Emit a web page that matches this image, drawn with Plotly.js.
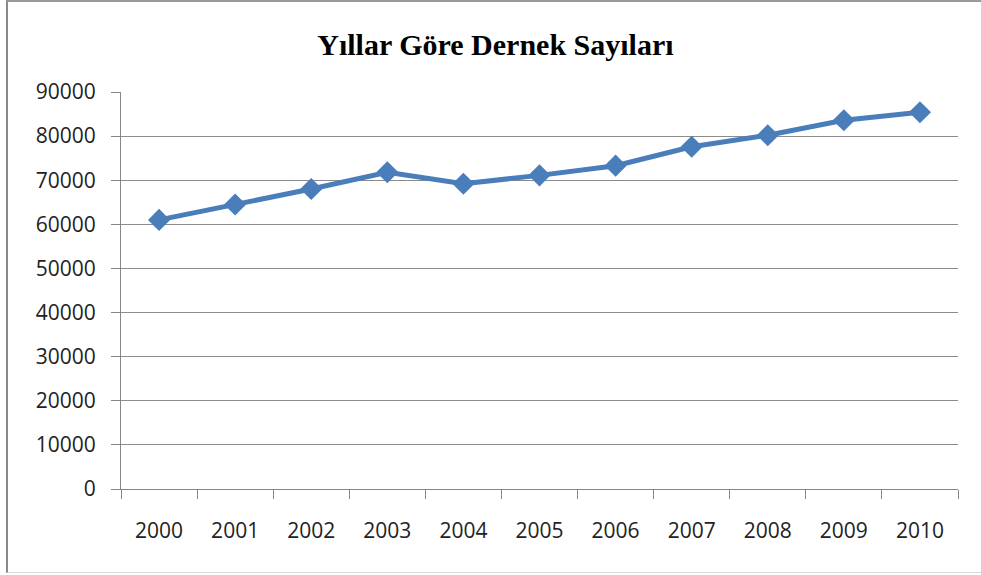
<!DOCTYPE html>
<html>
<head>
<meta charset="utf-8">
<script src="https://cdn.plot.ly/plotly-3.0.1.min.js"></script>
<style>
  html, body { margin: 0; padding: 0; background: #fff; }
  #wrap { position: relative; width: 981px; height: 575px; }
  #chart { width: 981px; height: 575px; }
  #frame { position: absolute; left: 6px; top: 0px; width: 975px; height: 573px;
           border-left: 2px solid #8a8a8a; border-top: 2px solid #9a9a9a;
           border-bottom: 1px solid #d8d8d8; box-sizing: border-box; pointer-events: none; }
</style>
</head>
<body>
<div id="wrap">
  <div id="chart"></div>
  <div id="frame"></div>
</div>
<script>
const years = ["2000","2001","2002","2003","2004","2005","2006","2007","2008","2009","2010"];
const counts = [61000, 64500, 68000, 71800, 69200, 71100, 73300, 77600, 80200, 83600, 85400];
const yTicks = [0,10000,20000,30000,40000,50000,60000,70000,80000,90000];
const titleText = "Yıllar Göre Dernek Sayıları";

const trace = {
  x: years, y: counts, type: "scatter", mode: "lines+markers",
  line: { color: "#4a7ebb", width: 5 },
  marker: { symbol: "diamond", size: 17, color: "#4a7ebb" },
  hoverinfo: "skip"
};

const layout = {
  width: 981, height: 575,
  margin: { l: 121, r: 23, t: 92, b: 86 },
  paper_bgcolor: "#fff", plot_bgcolor: "#fff",
  showlegend: false,
  title: { text: "<b>" + titleText + "</b>", x: 0.505, xref: "container", xanchor: "center",
           y: 0.922, yref: "container", yanchor: "middle",
           font: { family: "Liberation Serif, serif", size: 30, color: "#000" } },
  xaxis: {
    type: "category", tickson: "boundaries",
    showgrid: false, zeroline: false,
    showline: true, linecolor: "#868686", linewidth: 1,
    ticks: "outside", ticklen: 9, tickcolor: "#868686", tickwidth: 1,
    ticklabelstandoff: 23,
    tickfont: { family: "Open Sans, sans-serif", size: 21, color: "#222" },
    range: [-0.5, 10.5], fixedrange: true
  },
  yaxis: {
    range: [0, 90000], tickvals: yTicks, ticktext: yTicks.map(String),
    showgrid: true, gridcolor: "#8c8c8c", gridwidth: 1,
    zeroline: false, showline: true, linecolor: "#868686", linewidth: 1,
    ticks: "outside", ticklen: 9, tickcolor: "#868686", tickwidth: 1,
    ticklabelstandoff: 11,
    tickfont: { family: "Open Sans, sans-serif", size: 21, color: "#222" },
    fixedrange: true
  }
};

Plotly.newPlot("chart", [trace], layout, { displayModeBar: false, staticPlot: true });
</script>
</body>
</html>
